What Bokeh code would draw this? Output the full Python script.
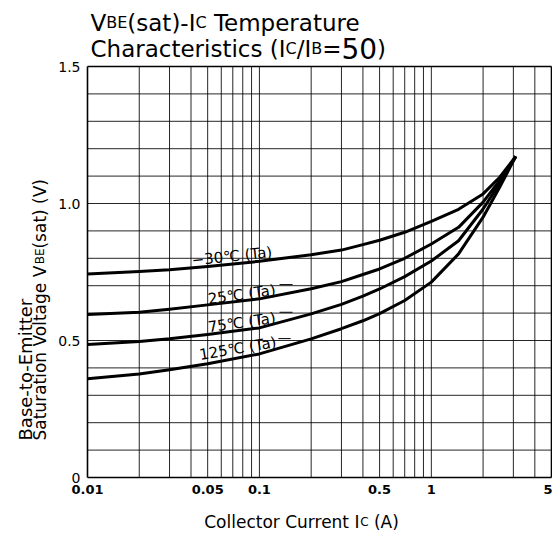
import numpy as np
from bokeh.plotting import figure
from bokeh.models import Label, FixedTicker, Range1d, CustomJSTickFormatter
from bokeh.core.properties import value
from bokeh.embed import file_html
from bokeh.resources import INLINE

# ---- data ----
ic = [0.01, 0.02, 0.03, 0.05, 0.1, 0.2, 0.3, 0.4, 0.5, 0.7, 1.0, 1.44, 2.0, 2.5, 3.1]
v_m30 = [0.743, 0.752, 0.758, 0.770, 0.789, 0.813, 0.830, 0.850, 0.866, 0.895, 0.935, 0.979, 1.035, 1.096, 1.172]
v_25 = [0.595, 0.603, 0.614, 0.630, 0.652, 0.689, 0.715, 0.741, 0.761, 0.800, 0.852, 0.913, 1.005, 1.084, 1.172]
v_75 = [0.485, 0.496, 0.506, 0.522, 0.546, 0.597, 0.632, 0.662, 0.688, 0.733, 0.790, 0.864, 0.980, 1.074, 1.172]
v_125 = [0.360, 0.378, 0.393, 0.415, 0.451, 0.506, 0.543, 0.572, 0.598, 0.646, 0.713, 0.816, 0.950, 1.060, 1.172]
series = [v_m30, v_25, v_75, v_125]

curve_labels = ["\u221230\u2103 (Ta)", "25\u2103 (Ta)", "75\u2103 (Ta)", "125\u2103 (Ta)"]
label_x = [0.0404, 0.0502, 0.0502, 0.0448]
label_y = [0.792, 0.650, 0.548, 0.447]
label_angle_deg = [6, 8, 8, 9.5]
tail_x0 = [0.131, 0.131, 0.129]
tail_x1 = [0.156, 0.156, 0.152]
tail_y = [0.704, 0.603, 0.507]

x_tick_values = [0.01, 0.05, 0.1, 0.5, 1, 5]
y_tick_values = [0, 0.5, 1.0, 1.5]
X_MIN, X_MAX, Y_MIN, Y_MAX = 0.01, 5, 0, 1.5

# ---- layout (canvas px) ----
W_CANVAS, H_CANVAS = 552, 531
LEFT, RIGHT, TOP, BOTTOM = 87, 551, 66, 477   # chart box inside the canvas
BASE_FIX = 6   # Label baseline correction (px)

lx_per_px = (np.log10(X_MAX) - np.log10(X_MIN)) / (RIGHT - LEFT)
y_per_px = (Y_MAX - Y_MIN) / (BOTTOM - TOP)
x_lo = 10 ** (np.log10(X_MIN) - LEFT * lx_per_px)
x_hi = 10 ** (np.log10(X_MAX) + (W_CANVAS - RIGHT) * lx_per_px)
y_lo = Y_MIN - (H_CANVAS - BOTTOM) * y_per_px
y_hi = Y_MAX + TOP * y_per_px

FONT = "DejaVu Sans"
# approximate DejaVu Sans advance widths (em)
W = {' ': .318, '(': .390, ')': .390, '-': .361, '/': .337, '=': .838, 'A': .684, 'B': .686,
     'C': .698, 'E': .632, 'I': .295, 'T': .611, 'V': .684, 'S': .635, 'a': .613, 'c': .550,
     'e': .615, 'g': .635, 'h': .634, 'i': .278, 'l': .278, 'm': .974, 'n': .634, 'o': .612,
     'p': .635, 'r': .411, 's': .521, 't': .392, 'u': .634}
for d in "0123456789":
    W[d] = .636


def text_width(t, size):
    return sum(W.get(ch, 0.6) for ch in t) * size


p = figure(width=W_CANVAS, height=H_CANVAS, x_axis_type="log",
           x_range=Range1d(x_lo, x_hi), y_range=Range1d(y_lo, y_hi),
           output_backend="svg", toolbar_location=None,
           min_border_left=0, min_border_right=0, min_border_top=0, min_border_bottom=0,
           background_fill_color="white", border_fill_color="white")
p.outline_line_color = None
p.xgrid.visible = False
p.ygrid.visible = False

# grid lines limited to the chart box
xg = []
for dec in [0.01, 0.1, 1]:
    for k in range(1, 10):
        t = round(dec * k, 4)
        if X_MIN < t < X_MAX:
            xg.append(t)
yg = [round(0.1 * i, 1) for i in range(1, 15)]
p.segment(x0=xg, x1=xg, y0=[Y_MIN] * len(xg), y1=[Y_MAX] * len(xg),
          line_color="black", line_alpha=0.85, line_width=1)
p.segment(x0=[X_MIN] * len(yg), x1=[X_MAX] * len(yg), y0=yg, y1=yg,
          line_color="black", line_alpha=0.85, line_width=1)
# box edges (top and right)
p.segment(x0=[X_MIN, X_MAX], x1=[X_MAX, X_MAX], y0=[Y_MAX, Y_MIN], y1=[Y_MAX, Y_MAX],
          line_color="black", line_width=1.6)

# axes, pinned to the chart box
xax, yax = p.xaxis[0], p.yaxis[0]
xax.fixed_location = Y_MIN
yax.fixed_location = X_MIN
xax.bounds = (X_MIN, X_MAX)
yax.bounds = (Y_MIN, Y_MAX)
for ax in (xax, yax):
    ax.axis_line_color = "black"
    ax.axis_line_width = 1.6
    ax.major_tick_out = 0
    ax.major_tick_in = 0
    ax.minor_tick_out = 0
    ax.minor_tick_in = 0
    ax.major_label_text_font = FONT
    ax.major_label_text_color = "black"
xax.ticker = FixedTicker(ticks=x_tick_values)
xax.formatter = CustomJSTickFormatter(code="return String(Number(tick.toPrecision(3)));")
xax.major_label_text_font_size = "13px"
xax.major_label_text_font_style = "bold"
xax.major_label_standoff = 7
yax.ticker = FixedTicker(ticks=y_tick_values)
yax.formatter = CustomJSTickFormatter(code="return tick == 0 ? '0' : tick.toFixed(1);")
yax.major_label_text_font_size = "14px"
yax.major_label_standoff = 7

# curves
for s in series:
    p.line(ic, s, line_color="black", line_width=3, line_join="round")

# curve labels
for t, lx, ly, ang in zip(curve_labels, label_x, label_y, label_angle_deg):
    p.text(x=[lx], y=[ly], text=[t], angle=np.deg2rad(ang), text_font=value(FONT),
           text_font_size="15px", text_color="black", text_align="left",
           text_baseline="alphabetic")
p.segment(x0=tail_x0, x1=tail_x1, y0=tail_y, y1=tail_y, line_color="black", line_width=1)


def add_pieces(pieces, x0, y0, angle=0.0):
    """Place text pieces; offsets in px from the chart box's bottom-left corner."""
    pos = 0.0
    for t, size in pieces:
        lead = len(t) - len(t.lstrip(" "))
        pos += text_width(" " * lead, size)
        t = t.lstrip(" ")
        if angle == 0:
            dx, dy = x0 + pos, y0 + BASE_FIX
        else:
            dx, dy = x0 - BASE_FIX + 1, y0 + pos
        p.add_layout(Label(x=X_MIN, y=Y_MIN, x_units="data", y_units="data",
                           x_offset=dx, y_offset=dy, text=t,
                           text_font=FONT, text_font_size=f"{size}px", text_color="black",
                           text_baseline="alphabetic", text_align="left", angle=angle))
        pos += text_width(t, size)
    return pos


# title
add_pieces([("V", 23), ("BE", 16), ("(sat)-I", 23), ("C", 16), (" Temperature", 23)], 3, 448.7)
add_pieces([("Characteristics (I", 23), ("C", 16), ("/I", 23), ("B", 16), ("=", 23),
            ("50", 28), (")", 23)], 3, 422.7)

# x axis label
xl = [("Collector Current I", 17), ("C", 12), (" (A)", 17)]
xw = sum(text_width(t, s) for t, s in xl)
add_pieces(xl, 214 - xw / 2, -50)

# y axis label (rotated)
add_pieces([("Base-to-Emitter", 18)], -57, 37, angle=np.pi / 2)
add_pieces([("Saturation Voltage V", 17), ("BE", 12), ("(sat) (V)", 17)], -43, 37, angle=np.pi / 2)

open("out.html", "w").write(file_html(p, INLINE))
